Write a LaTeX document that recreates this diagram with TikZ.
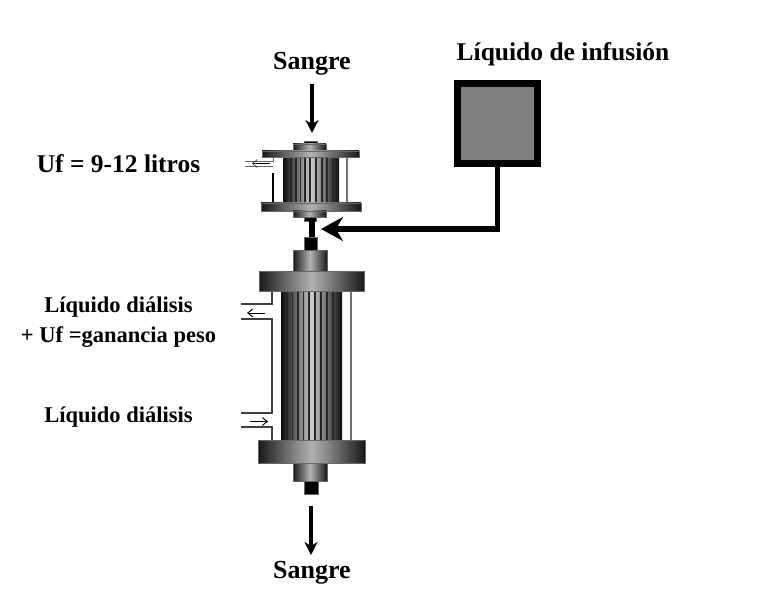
\documentclass[tikz,border=0pt]{standalone}
\usepackage{fontspec}
\setmainfont{Liberation Serif}
\usetikzlibrary{arrows.meta}

\tikzset{
	etiqueta/.style={font=\bfseries\fontsize{#1}{#1}\selectfont, inner sep=0pt, align=center},
	pieza/.style={left color=black!90, right color=black!90, middle color=black!30, draw=black!60, line width=0.4pt},
	fibra/.style={left color=black!95, right color=black!95, middle color=black!20, draw=none},
	tapon/.style={fill=black, draw=black!60, line width=0.5pt},
	carcasa/.style={black!75, line width=1.2pt},
	flechita/.style={-{Straight Barb[length=5pt,width=8pt]}, black, line width=0.9pt},
	flujo/.style={-{Stealth[length=13pt,width=13pt]}, black, line width=3.5pt}
}

\begin{document}
\begin{tikzpicture}[x=1pt, y=-1pt]
	\useasboundingbox (0,0) rectangle (760,596);

	% --- TEXTOS ---
	\node[etiqueta=26] (sangreA) at (312,64) {Sangre};
	\node[etiqueta=26] (sangreB) at (312,573) {Sangre};
	\node[etiqueta=25.5] (infusion) at (563,54) {Líquido de infusión};
	\node[etiqueta=25.5] (uf) at (118.5,164) {Uf = 9-12 litros};
	\node[etiqueta=22.5] (salida) at (118.5,307.5) {Líquido diálisis};
	\node[etiqueta=22.5] (ganancia) at (118.5,337) {+ Uf =ganancia peso};
	\node[etiqueta=22.5] (entrada) at (118.5,417.5) {Líquido diálisis};

	% --- FILTRO PEQUEÑO ---
	\fill[fibra] (283,157) rectangle (339,203);
	\foreach \x in {291,296,300.5,305,310,316,322,327,333}
		\draw[black!85, line width=1.2pt] (\x,157) -- (\x,203);
	\draw[black!55, line width=1.2pt] (347,157) -- (347,203); % pared derecha
	\draw[black!60, line width=0.8pt] (273,157) -- (273,161) -- (245,161);
	\draw[black!60, line width=0.8pt] (245,166) -- (273,166);
	\draw[black, line width=1.6pt] (273,173) -- (273,203);
	\draw[flechita, line width=0.5pt] (270,163.5) -- (252,163.5);
	\fill[tapon] (304,141) rectangle (317,144);
	\path[pieza] (293,144) rectangle (326,151);
	\path[pieza] (262,151) rectangle (359,157);
	\path[pieza] (261,203) rectangle (361,211);
	\path[pieza] (293,211) rectangle (326,217);
	\fill[tapon] (304,217) rectangle (316,221);

	% --- UNIÓN ENTRE FILTROS ---
	\fill[black] (309,221) rectangle (315,237);
	\fill[tapon] (304,237) rectangle (317,250);

	% --- FILTRO GRANDE ---
	\fill[fibra] (281,291) rectangle (342,440);
	\foreach \x in {287,292.5,298,303.5,309,315,321,327,333}
		\draw[black!85, line width=1.4pt] (\x,291) -- (\x,440);
	\draw[black!55, line width=1.2pt] (351,291) -- (351,440); % pared derecha
	\draw[carcasa] (272,291) -- (272,304) -- (241,304);
	\draw[carcasa] (241,319) -- (272,319) -- (272,413) -- (241,413);
	\draw[carcasa] (241,427) -- (272,427) -- (272,440);
	\draw[flechita] (265,313) -- (247,313);
	\draw[flechita] (250,421.5) -- (268,421.5);
	\path[pieza] (293,250) rectangle (327,271);
	\path[pieza] (259,271) rectangle (364,291);
	\path[pieza] (258,440) rectangle (365,463);
	\path[pieza] (293,463) rectangle (327,481);
	\fill[tapon] (304,481) rectangle (318,494);

	% --- LÍQUIDO DE INFUSIÓN ---
	\node[draw=black, fill=black!50, line width=7pt, minimum size=80pt, inner sep=0pt, outer sep=0pt] (caja) at (497.5,123.5) {};
	\coordinate (union) at (321,229);
	\draw[-{Stealth[length=22pt,width=24pt]}, line width=5.5pt] (caja.south) |- (union);

	% --- ENTRADA Y SALIDA DE SANGRE ---
	\coordinate (entradaSangre) at (312,84);
	\coordinate (filtroSup) at (312,133);
	\coordinate (salidaSangre) at (311,506);
	\coordinate (finSangre) at (311,555);
	\draw[flujo] (entradaSangre) -- (filtroSup);
	\draw[flujo] (salidaSangre) -- (finSangre);

\end{tikzpicture}
\end{document}
